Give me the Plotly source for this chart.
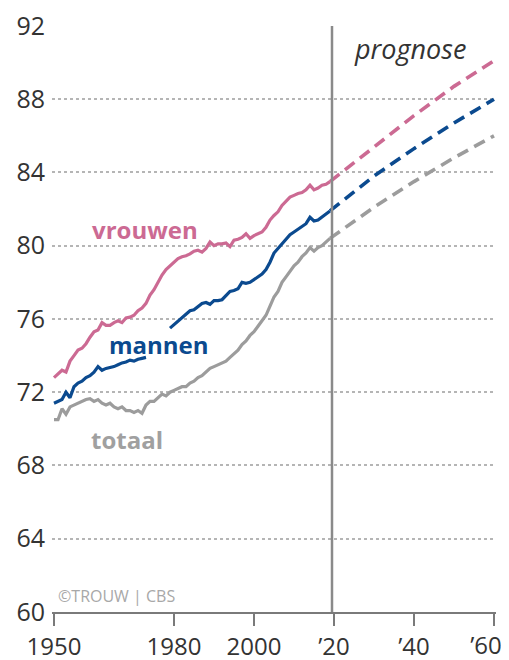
import plotly.graph_objects as go

years = list(range(1950, 2020))

vrouwen = [72.8, 73.0, 73.2, 73.1, 73.7, 74.0, 74.3, 74.4, 74.65, 75.0,
           75.3, 75.4, 75.8, 75.65, 75.65, 75.8, 75.9, 75.8, 76.05, 76.1,
           76.2, 76.45, 76.6, 76.85, 77.3, 77.6, 78.0, 78.4, 78.7, 78.9,
           79.15, 79.3, 79.4, 79.45, 79.55, 79.7, 79.75, 79.65, 79.85, 80.2,
           80.0, 80.1, 80.1, 80.15, 79.95, 80.3, 80.35, 80.45, 80.65, 80.4,
           80.55, 80.65, 80.75, 81.0, 81.4, 81.65, 81.85, 82.2, 82.45, 82.65,
           82.75, 82.85, 82.9, 83.05, 83.3, 83.05, 83.15, 83.3, 83.35, 83.5]

mannen = [71.4, 71.5, 71.6, 72.0, 71.7, 72.3, 72.5, 72.6, 72.8, 72.9,
          73.1, 73.4, 73.2, 73.3, 73.35, 73.4, 73.5, 73.6, 73.65, 73.75,
          73.7, 73.8, 73.85, 73.9, None, None, None, None, None, 75.5,
          75.7, 75.9, 76.1, 76.3, 76.45, 76.5, 76.7, 76.85, 76.9, 76.8,
          77.0, 77.0, 77.05, 77.3, 77.5, 77.55, 77.65, 78.0, 77.95, 78.0,
          78.15, 78.3, 78.45, 78.7, 79.1, 79.6, 79.85, 80.1, 80.4, 80.6,
          80.75, 80.9, 81.05, 81.2, 81.55, 81.35, 81.4, 81.55, 81.7, 81.9]

totaal = [70.5, 70.5, 71.1, 70.8, 71.2, 71.3, 71.4, 71.5, 71.6, 71.65,
          71.5, 71.6, 71.4, 71.3, 71.4, 71.2, 71.1, 71.2, 71.0, 71.0,
          70.9, 71.0, 70.85, 71.3, 71.5, 71.5, 71.7, 71.9, 71.8, 72.0,
          72.1, 72.2, 72.3, 72.3, 72.5, 72.6, 72.8, 72.9, 73.1, 73.3,
          73.4, 73.5, 73.6, 73.7, 73.9, 74.1, 74.3, 74.6, 74.8, 75.1,
          75.3, 75.6, 75.9, 76.2, 76.7, 77.2, 77.5, 78.0, 78.3, 78.6,
          78.9, 79.1, 79.4, 79.6, 79.9, 79.7, 79.9, 80.0, 80.2, 80.4]

prog_years = [2019, 2030, 2040, 2050, 2060]
prog_vrouwen = [83.5, 85.4, 87.1, 88.7, 90.1]
prog_mannen = [81.9, 83.8, 85.3, 86.7, 88.0]
prog_totaal = [80.4, 82.1, 83.5, 84.8, 86.0]

x_tickvals = [1950, 1980, 2000, 2020, 2040, 2060]
x_ticktext = ["1950", "1980", "2000", "’20", "’40", ""]
x_last_tickval = [2060]
x_last_ticktext = ["’60"]
y_tickvals = [60, 64, 68, 72, 76, 80, 84, 88, 92]
prognose_year = 2019.5

PINK = "#cc6a93"
BLUE = "#0b4a8f"
GRAY = "#9c9c9c"
FONT = "Open Sans"
X_RANGE = [1949.5, 2060.5]

fig = go.Figure()
for ys, col in [(totaal, GRAY), (mannen, BLUE), (vrouwen, PINK)]:
    fig.add_trace(go.Scatter(x=years, y=ys, mode="lines", connectgaps=False,
                             line=dict(color=col, width=3.2), hoverinfo="skip"))
# projection lines live on the overlaying axis (same range) that carries the '60 label
for ys, col in [(prog_totaal, GRAY), (prog_mannen, BLUE), (prog_vrouwen, PINK)]:
    fig.add_trace(go.Scatter(x=prog_years, y=ys, mode="lines", xaxis="x2",
                             line=dict(color=col, width=3.6, dash="12px,7px"),
                             hoverinfo="skip"))

fig.add_shape(type="line", x0=prognose_year, x1=prognose_year, y0=60, y1=92,
              xref="x", yref="y", line=dict(color="#8a8a8a", width=2.5))

fig.add_annotation(x=1972.75, y=80.9, text="<b>vrouwen</b>", showarrow=False,
                   font=dict(family=FONT, size=24, color=PINK))
fig.add_annotation(x=1976.25, y=74.6, text="<b>mannen</b>", showarrow=False,
                   font=dict(family=FONT, size=24, color=BLUE))
fig.add_annotation(x=1968.25, y=69.4, text="<b>totaal</b>", showarrow=False,
                   font=dict(family=FONT, size=24, color="#a0a0a0"))
fig.add_annotation(x=2039, y=90.75, text="<i>prognose</i>", showarrow=False,
                   font=dict(family=FONT, size=27, color="#333333"))
fig.add_annotation(x=1950.6, y=60.9, text="©TROUW | CBS", showarrow=False,
                   xanchor="left", font=dict(family=FONT, size=16, color="#a8a8a8"))

# page body has an 8px default margin; size the figure to fill the window
fig.update_layout(
    width=501, height=652,
    margin=dict(l=44, r=13, t=17, b=48, autoexpand=False),
    paper_bgcolor="white", plot_bgcolor="white",
    showlegend=False,
    font=dict(family=FONT, color="#333333"),
    xaxis=dict(range=X_RANGE, tickvals=x_tickvals, ticktext=x_ticktext,
               automargin=False, ticklabeloverflow="allow",
               showgrid=False, zeroline=False, showline=True, linecolor="#7a7a7a",
               linewidth=2, ticks="outside", ticklen=12, tickwidth=2,
               tickcolor="#7a7a7a", ticklabelstandoff=0,
               tickfont=dict(size=24, color="#333333")),
    xaxis2=dict(range=X_RANGE, overlaying="x", anchor="y", side="bottom",
                tickvals=x_last_tickval, ticktext=x_last_ticktext,
                automargin=False, ticklabeloverflow="allow",
                showgrid=False, zeroline=False, showline=False,
                ticks="outside", ticklen=12, tickwidth=2,
                tickcolor="rgba(0,0,0,0)", ticklabelstandoff=0,
                ticklabelshift=-8,
                tickfont=dict(size=24, color="#333333")),
    yaxis=dict(range=[60, 92.05], tickvals=y_tickvals, showgrid=True,
               automargin=False, ticklabeloverflow="allow",
               gridcolor="#b5b5b5", gridwidth=1.5, griddash="dot",
               zeroline=False, showline=False, ticks="",
               ticklabelstandoff=6, tickfont=dict(size=25, color="#333333")),
)

fig.write_html("out.html")
